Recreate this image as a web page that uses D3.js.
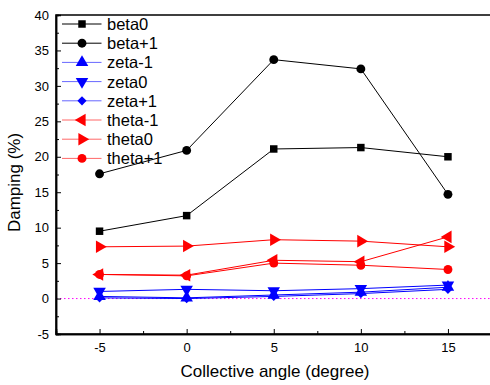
<!DOCTYPE html>
<html>
<head>
<meta charset="utf-8">
<script src="https://cdn.jsdelivr.net/npm/d3@7/dist/d3.min.js"></script>
<style>
  html, body { margin: 0; padding: 0; background: #fff; }
  svg { display: block; font-family: "Liberation Sans", Arial, sans-serif; }
</style>
</head>
<body>
<svg id="chart" width="490" height="385"></svg>
<script>
// Collective angle (degree)
const angles = [-5, 0, 5, 10, 15];

// Damping (%) for each configuration
const beta0     = [9.5, 11.7, 21.1, 21.3, 20.0];
const betaP1    = [17.6, 20.9, 33.7, 32.4, 14.7];
const zetaM1    = [0.3, 0.1, 0.5, 0.9, 1.6];
const zeta0     = [1.0, 1.3, 1.1, 1.4, 1.9];
const zetaP1    = [0.1, 0.0, 0.3, 0.7, 1.3];
const thetaM1   = [3.4, 3.3, 5.4, 5.2, 8.7];
const theta0    = [7.3, 7.4, 8.3, 8.1, 7.3];
const thetaP1   = [3.4, 3.2, 5.0, 4.7, 4.1];

const xTicks = [-5, 0, 5, 10, 15];
const yTicks = [-5, 0, 5, 10, 15, 20, 25, 30, 35, 40];

const seriesNames  = ["beta0", "beta+1", "zeta-1", "zeta0", "zeta+1", "theta-1", "theta0", "theta+1"];
const seriesValues = [beta0, betaP1, zetaM1, zeta0, zetaP1, thetaM1, theta0, thetaP1];
const seriesColors = ["#000", "#000", "#0000ff", "#0000ff", "#0000ff", "#ff0000", "#ff0000", "#ff0000"];
const seriesShapes = ["square", "circle", "up", "down", "diamond", "left", "right", "circle"];

const svg = d3.select("#chart");
const plotL = 56, plotR = 492.5, plotT = 15, plotB = 334;

const x = d3.scaleLinear().domain([-7.5, 17.5]).range([plotL, plotR - 1]);
const y = d3.scaleLinear().domain([-5, 40]).range([plotB, plotT]);

// Frame
svg.append("rect")
  .attr("x", plotL).attr("y", plotT)
  .attr("width", plotR - plotL).attr("height", plotB - plotT)
  .attr("fill", "none").attr("stroke", "#000").attr("stroke-width", 1.5);

// Zero reference line
svg.append("line")
  .attr("x1", plotL).attr("x2", plotR)
  .attr("y1", y(0)).attr("y2", y(0))
  .attr("stroke", "#ff00ff").attr("stroke-width", 1)
  .attr("stroke-dasharray", "1.5,2.5");

// Axes with inward ticks; plain hyphen for negative labels
const plain = d => String(d);
const xAxis = d3.axisBottom(x).tickValues(xTicks).tickSize(-5).tickPadding(9).tickFormat(plain);
const xMinor = d3.axisBottom(x).tickValues([-2.5, 2.5, 7.5, 12.5]).tickSize(-3).tickFormat("");
const yAxis = d3.axisLeft(y).tickValues(yTicks).tickSize(-5).tickPadding(7).tickFormat(plain);
const yMinor = d3.axisLeft(y).tickValues(d3.range(-2.5, 40, 5)).tickSize(-3).tickFormat("");

function styleAxis(g) {
  g.select(".domain").attr("stroke", "#000").attr("stroke-width", 1.5);
  g.selectAll(".tick line").attr("stroke", "#000").attr("stroke-width", 1);
  g.selectAll(".tick text").attr("fill", "#000").style("font-size", "13px")
    .style("font-family", "'Liberation Sans', Arial, sans-serif");
}

svg.append("g").attr("transform", `translate(0,${plotB})`).call(xAxis).call(styleAxis);
svg.append("g").attr("transform", `translate(0,${plotB})`).call(xMinor).call(styleAxis);
svg.append("g").attr("transform", `translate(${plotL},0)`).call(yAxis).call(styleAxis);
svg.append("g").attr("transform", `translate(${plotL},0)`).call(yMinor).call(styleAxis);

// Axis titles
svg.append("text")
  .attr("x", 275).attr("y", 377)
  .attr("text-anchor", "middle").style("font-size", "17px")
  .text("Collective angle (degree)");
svg.append("text")
  .attr("transform", `translate(20,${(plotT + plotB) / 2 + 8}) rotate(-90)`)
  .attr("text-anchor", "middle").style("font-size", "17px")
  .text("Damping (%)");

// Marker shapes
const tri = d3.symbol().type(d3.symbolTriangle).size(68);
const symbolFor = {
  square:  d3.symbol().type(d3.symbolSquare).size(56),
  circle:  d3.symbol().type(d3.symbolCircle).size(62),
  diamond: d3.symbol().type(d3.symbolSquare).size(42),
  up: tri, down: tri, left: tri, right: tri
};
const rotateFor = { up: 0, down: 180, left: -90, right: 90, square: 0, circle: 0, diamond: 45 };

const line = d3.line().x((d, i) => x(angles[i])).y(d => y(d));

seriesValues.forEach((vals, k) => {
  const g = svg.append("g");
  g.append("path")
    .attr("d", line(vals))
    .attr("fill", "none")
    .attr("stroke", seriesColors[k])
    .attr("stroke-width", 1);
  g.selectAll("path.m")
    .data(vals)
    .join("path")
    .attr("class", "m")
    .attr("d", symbolFor[seriesShapes[k]])
    .attr("transform", (d, i) => `translate(${x(angles[i])},${y(d)}) rotate(${rotateFor[seriesShapes[k]]})`)
    .attr("fill", seriesColors[k]);
});

// Legend
const legend = svg.append("g");
seriesNames.forEach((name, k) => {
  const ly = 24 + k * 19.2;
  legend.append("line")
    .attr("x1", 62).attr("x2", 101.5)
    .attr("y1", ly).attr("y2", ly)
    .attr("stroke", seriesColors[k]).attr("stroke-width", 1)
    .attr("stroke-opacity", k < 2 ? 1 : 0.6);
  legend.append("path")
    .attr("d", symbolFor[seriesShapes[k]])
    .attr("transform", `translate(82,${ly}) rotate(${rotateFor[seriesShapes[k]]})`)
    .attr("fill", seriesColors[k]);
  legend.append("text")
    .attr("x", 107).attr("y", ly + 6)
    .style("font-size", "16.5px")
    .text(name);
});
</script>
</body>
</html>
